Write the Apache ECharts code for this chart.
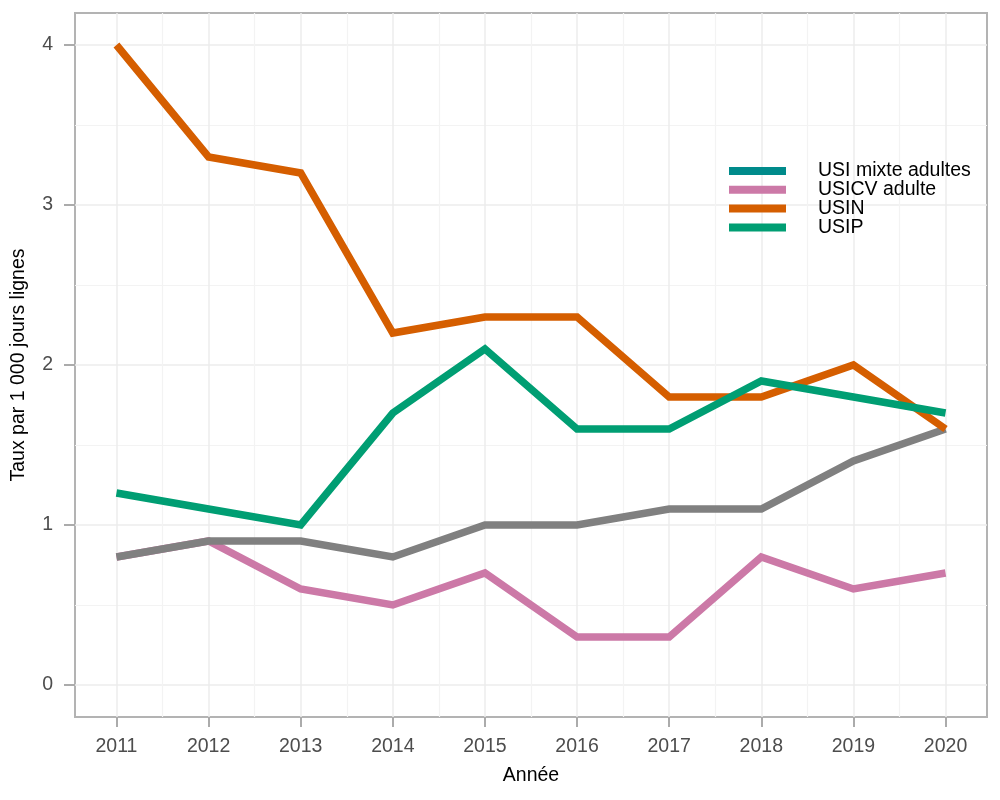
<!DOCTYPE html>
<html><head><meta charset="utf-8">
<script src="https://cdn.jsdelivr.net/npm/echarts@6/dist/echarts.min.js"></script>
<style>html,body{margin:0;padding:0;background:#fff}#c{width:1000px;height:800px}</style>
</head><body><div id="c"></div>
<script>
const years = [2011, 2012, 2013, 2014, 2015, 2016, 2017, 2018, 2019, 2020];
const yearMinor = [2011.5, 2012.5, 2013.5, 2014.5, 2015.5, 2016.5, 2017.5, 2018.5, 2019.5];
const yTicks = [0, 1, 2, 3, 4];
const yMinor = [0.5, 1.5, 2.5, 3.5];
const seriesNames = ['USI mixte adultes', 'USICV adulte', 'USIN', 'USIP'];
const usiMixte = [0.8, 0.9, 0.9, 0.8, 1.0, 1.0, 1.1, 1.1, 1.4, 1.6];
const usicv = [0.8, 0.9, 0.6, 0.5, 0.7, 0.3, 0.3, 0.8, 0.6, 0.7];
const usin = [4.0, 3.3, 3.2, 2.2, 2.3, 2.3, 1.8, 1.8, 2.0, 1.6];
const usip = [1.2, 1.1, 1.0, 1.7, 2.1, 1.6, 1.6, 1.9, 1.8, 1.7];

const pair = arr => years.map((y, i) => [y, arr[i]]);
const gridCol = '#EDEDED';
const minorCol = '#F3F3F3';
const font = '"Liberation Sans", Arial, sans-serif';
const fs = 19.5;
const xMin = 2010.55, xMax = 2020.45, yMin = -0.2, yMax = 4.2;
const tickStyle = { color: '#ABABAB', width: 2 };

const chart = echarts.init(document.getElementById('c'));
chart.setOption({
  animation: false,
  textStyle: { fontFamily: font },
  grid: { left: 75, right: 13, top: 13, bottom: 83, show: true, borderColor: '#B3B3B3', borderWidth: 2, containLabel: false },
  legend: {
    orient: 'vertical', left: 729, top: 161, padding: 0,
    itemWidth: 57, itemHeight: 8, itemGap: -1.2, icon: 'rect',
    textStyle: { fontFamily: font, fontSize: fs, color: '#000', padding: [0, 0, 0, 27] },
    data: [
      { name: seriesNames[0], itemStyle: { color: '#008B8B' } },
      { name: seriesNames[1], itemStyle: { color: '#CC79A7' } },
      { name: seriesNames[2], itemStyle: { color: '#D55E00' } },
      { name: seriesNames[3], itemStyle: { color: '#009E73' } }
    ]
  },
  xAxis: [{
    type: 'value', min: xMin, max: xMax,
    name: 'Année', nameLocation: 'middle', nameGap: 49,
    nameTextStyle: { fontFamily: font, fontSize: fs, color: '#000' },
    axisLine: { show: false, onZero: false },
    axisTick: { show: true, length: 10, lineStyle: tickStyle, customValues: years },
    axisLabel: { customValues: years, color: '#4D4D4D', fontSize: fs, margin: 20, formatter: v => String(v) },
    splitLine: { show: true, lineStyle: { color: gridCol, width: 1.5 } }
  }, {
    type: 'value', min: xMin, max: xMax, position: 'bottom',
    axisLine: { show: false, onZero: false },
    axisTick: { show: false, customValues: yearMinor },
    axisLabel: { show: false, customValues: yearMinor },
    splitLine: { show: true, lineStyle: { color: minorCol, width: 1.2 } }
  }],
  yAxis: [{
    type: 'value', min: yMin, max: yMax,
    name: 'Taux par 1 000 jours lignes', nameLocation: 'middle', nameGap: 46, nameRotate: 90,
    nameTextStyle: { fontFamily: font, fontSize: fs, color: '#000' },
    axisLine: { show: false, onZero: false },
    axisTick: { show: true, length: 11, lineStyle: tickStyle, customValues: yTicks },
    axisLabel: { customValues: yTicks, color: '#4D4D4D', fontSize: fs, margin: 22, formatter: v => String(v) },
    splitLine: { show: true, lineStyle: { color: gridCol, width: 1.5 } }
  }, {
    type: 'value', min: yMin, max: yMax, position: 'left',
    axisLine: { show: false, onZero: false },
    axisTick: { show: false, customValues: yMinor },
    axisLabel: { show: false, customValues: yMinor },
    splitLine: { show: true, lineStyle: { color: minorCol, width: 1.2 } }
  }],
  series: [
    { name: seriesNames[1], type: 'line', data: pair(usicv), symbol: 'none', z: 2,
      itemStyle: { color: '#CC79A7' }, lineStyle: { color: '#CC79A7', width: 7.5, cap: 'butt', join: 'miter' } },
    { name: seriesNames[0], type: 'line', data: pair(usiMixte), symbol: 'none', z: 3,
      itemStyle: { color: '#008B8B' }, lineStyle: { color: '#808080', width: 7.5, cap: 'butt', join: 'miter' } },
    { name: seriesNames[2], type: 'line', data: pair(usin), symbol: 'none', z: 4,
      itemStyle: { color: '#D55E00' }, lineStyle: { color: '#D55E00', width: 7.5, cap: 'butt', join: 'miter' } },
    { name: seriesNames[3], type: 'line', data: pair(usip), symbol: 'none', z: 5,
      itemStyle: { color: '#009E73' }, lineStyle: { color: '#009E73', width: 7.5, cap: 'butt', join: 'miter' } }
  ]
});
</script></body></html>
